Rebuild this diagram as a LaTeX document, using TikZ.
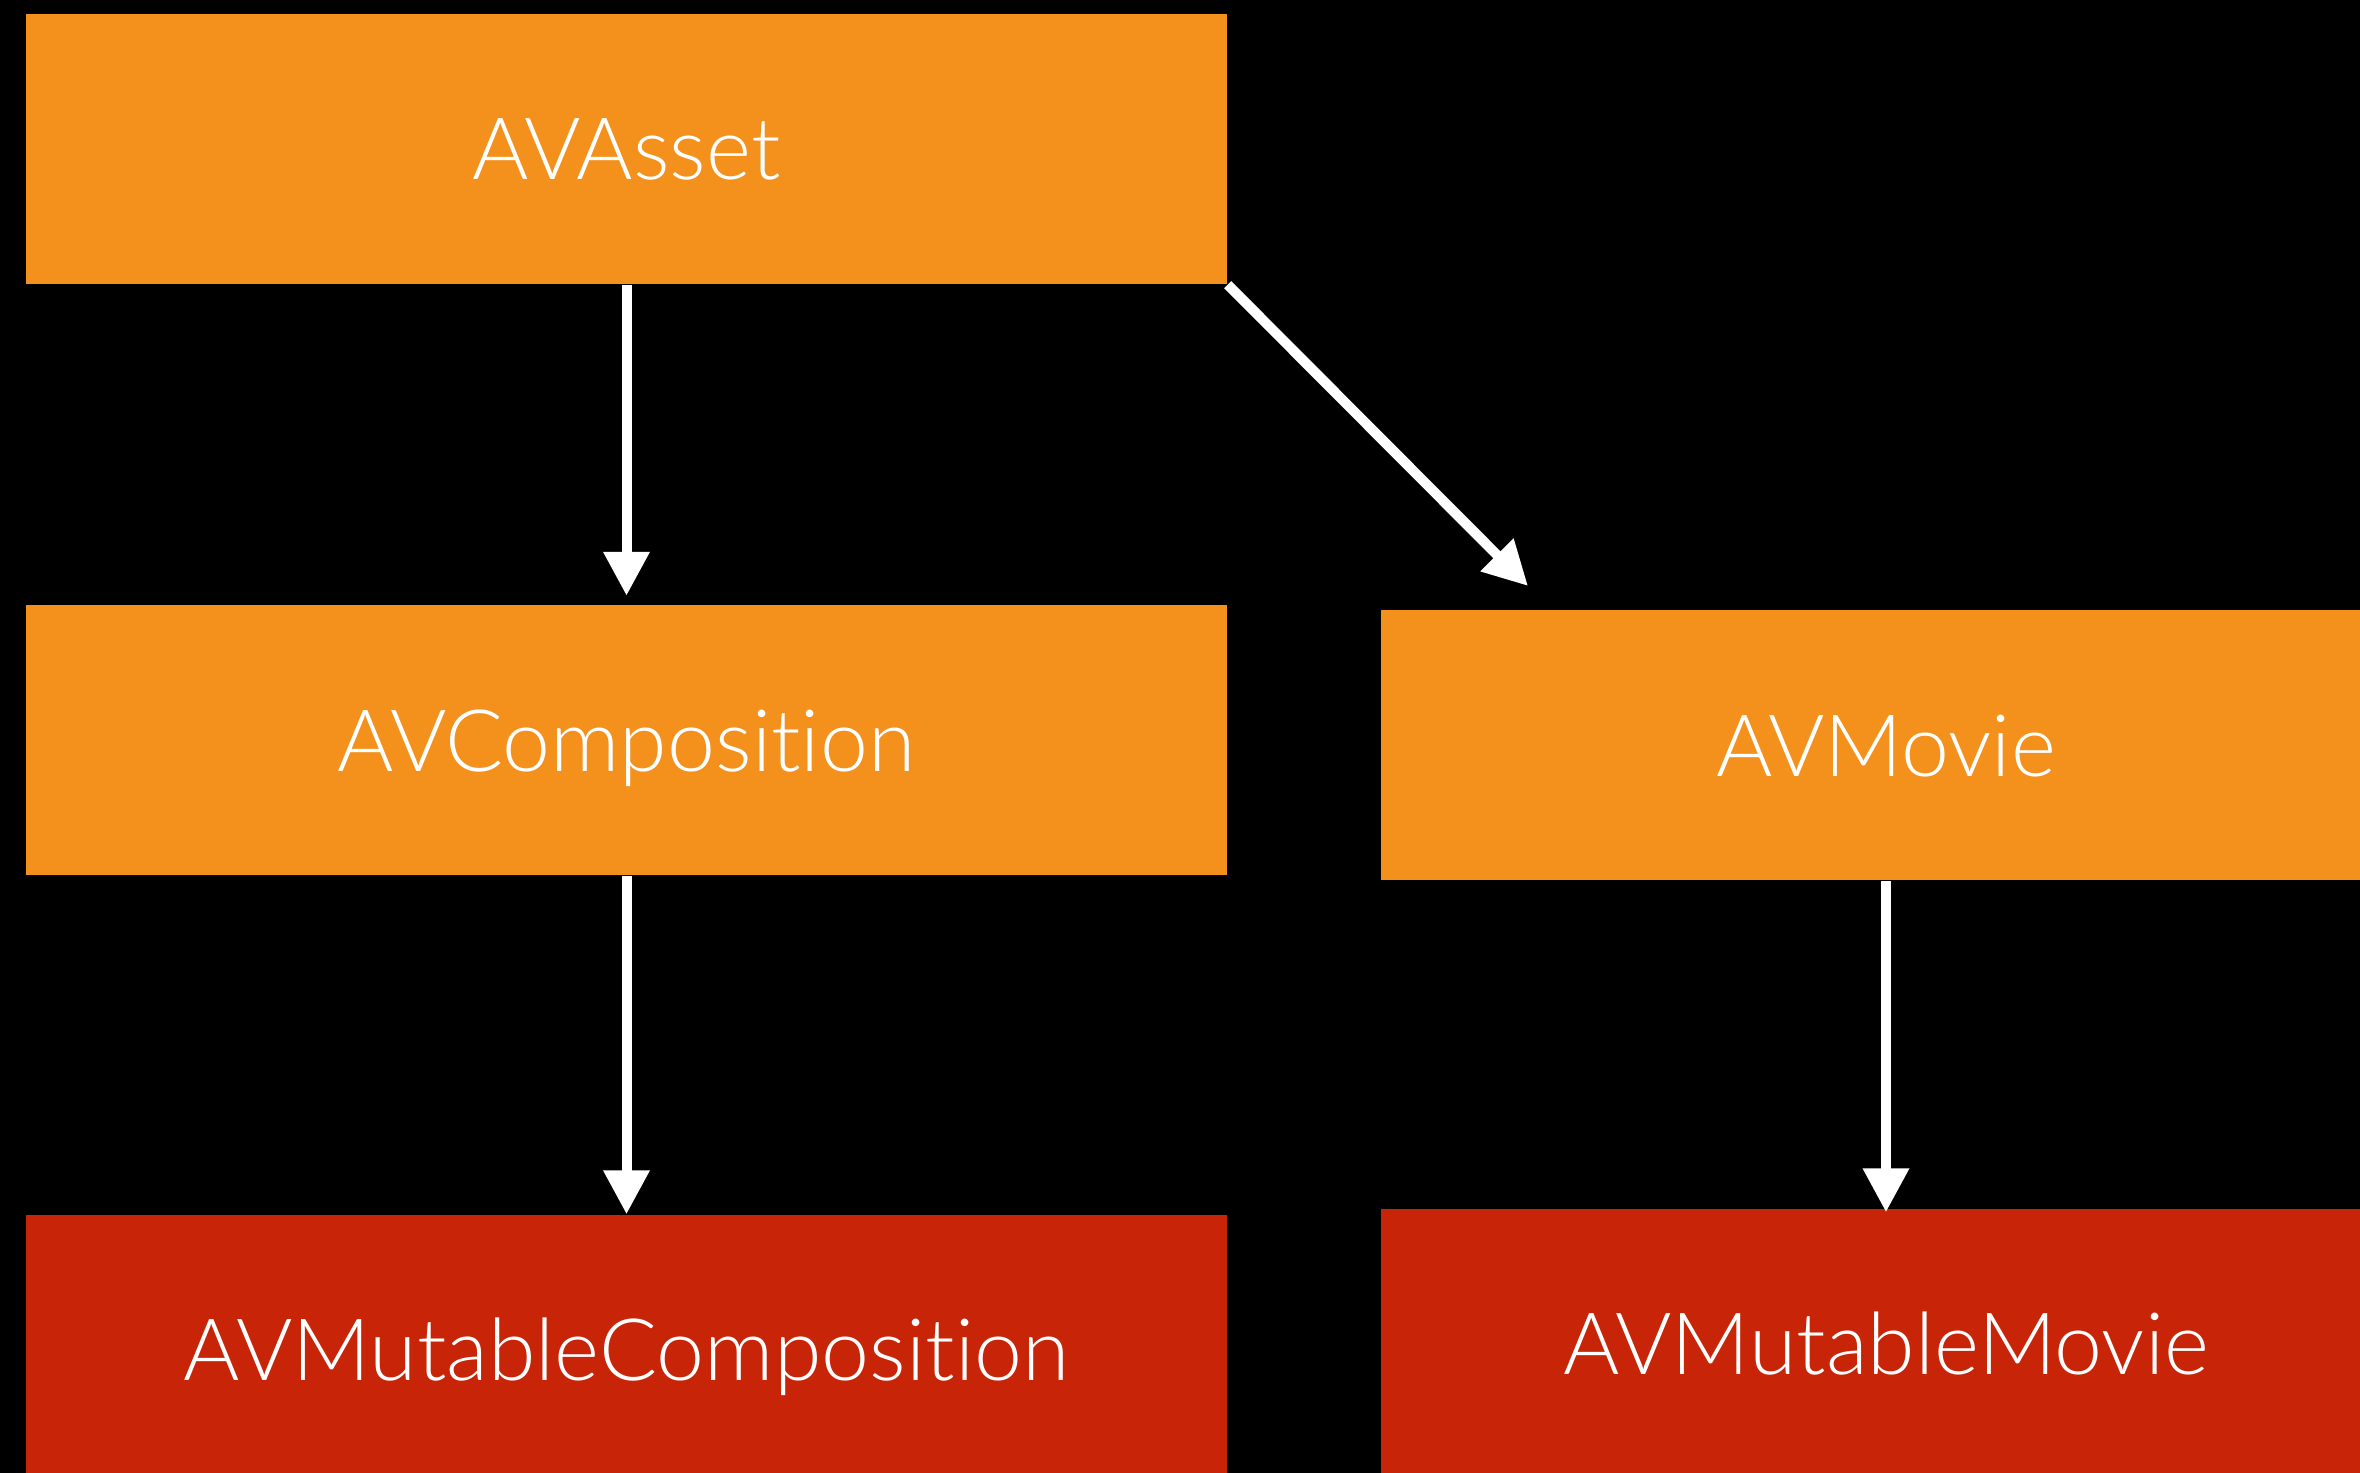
\documentclass[tikz,border=0pt]{standalone}
\usepackage{fontspec}
\setmainfont{Lato}[UprightFont=* Light, Ligatures=NoCommon]
\usetikzlibrary{arrows.meta}
\definecolor{assetorange}{RGB}{244,145,28}
\definecolor{mutablered}{RGB}{200,36,8}

\begin{document}
\begin{tikzpicture}[
    box/.style={minimum width=12.01cm, minimum height=2.70cm, inner sep=0pt, text=white,
        font=\fontsize{24.5}{30}\selectfont, text height=0.62cm, text depth=0pt},
    link/.style={draw=white, line width=0.1cm, -{Triangle[width=0.44cm, length=0.44cm]}}
]

% Background
\fill[black] (0,0) rectangle (23.60,14.73);
\useasboundingbox (0,0) rectangle (23.60,14.73);

% Top row
\node[box, fill=assetorange] (asset) at (6.265, 13.24) {AVAsset};

% Middle row
\node[box, fill=assetorange] (composition) at (6.265, 7.325) {AVComposition};
\node[box, fill=assetorange, minimum width=10.10cm] (movie) at (18.86, 7.275) {AVMovie};

% Bottom row
\node[box, fill=mutablered] (mutcomposition) at (6.265, 1.23) {AVMutableComposition};
\node[box, fill=mutablered, minimum width=10.10cm] (mutmovie) at (18.86, 1.29) {AVMutableMovie};

% Arrows
\coordinate (movietip) at (15.28, 8.87);
\draw[link, shorten >=0.09cm] (asset) -- (composition);
\draw[link] (asset.south east) -- (movietip);
\draw[link] (composition) -- (mutcomposition);
\draw[link, shorten >=-0.04cm] (movie) -- (mutmovie);

\end{tikzpicture}
\end{document}
